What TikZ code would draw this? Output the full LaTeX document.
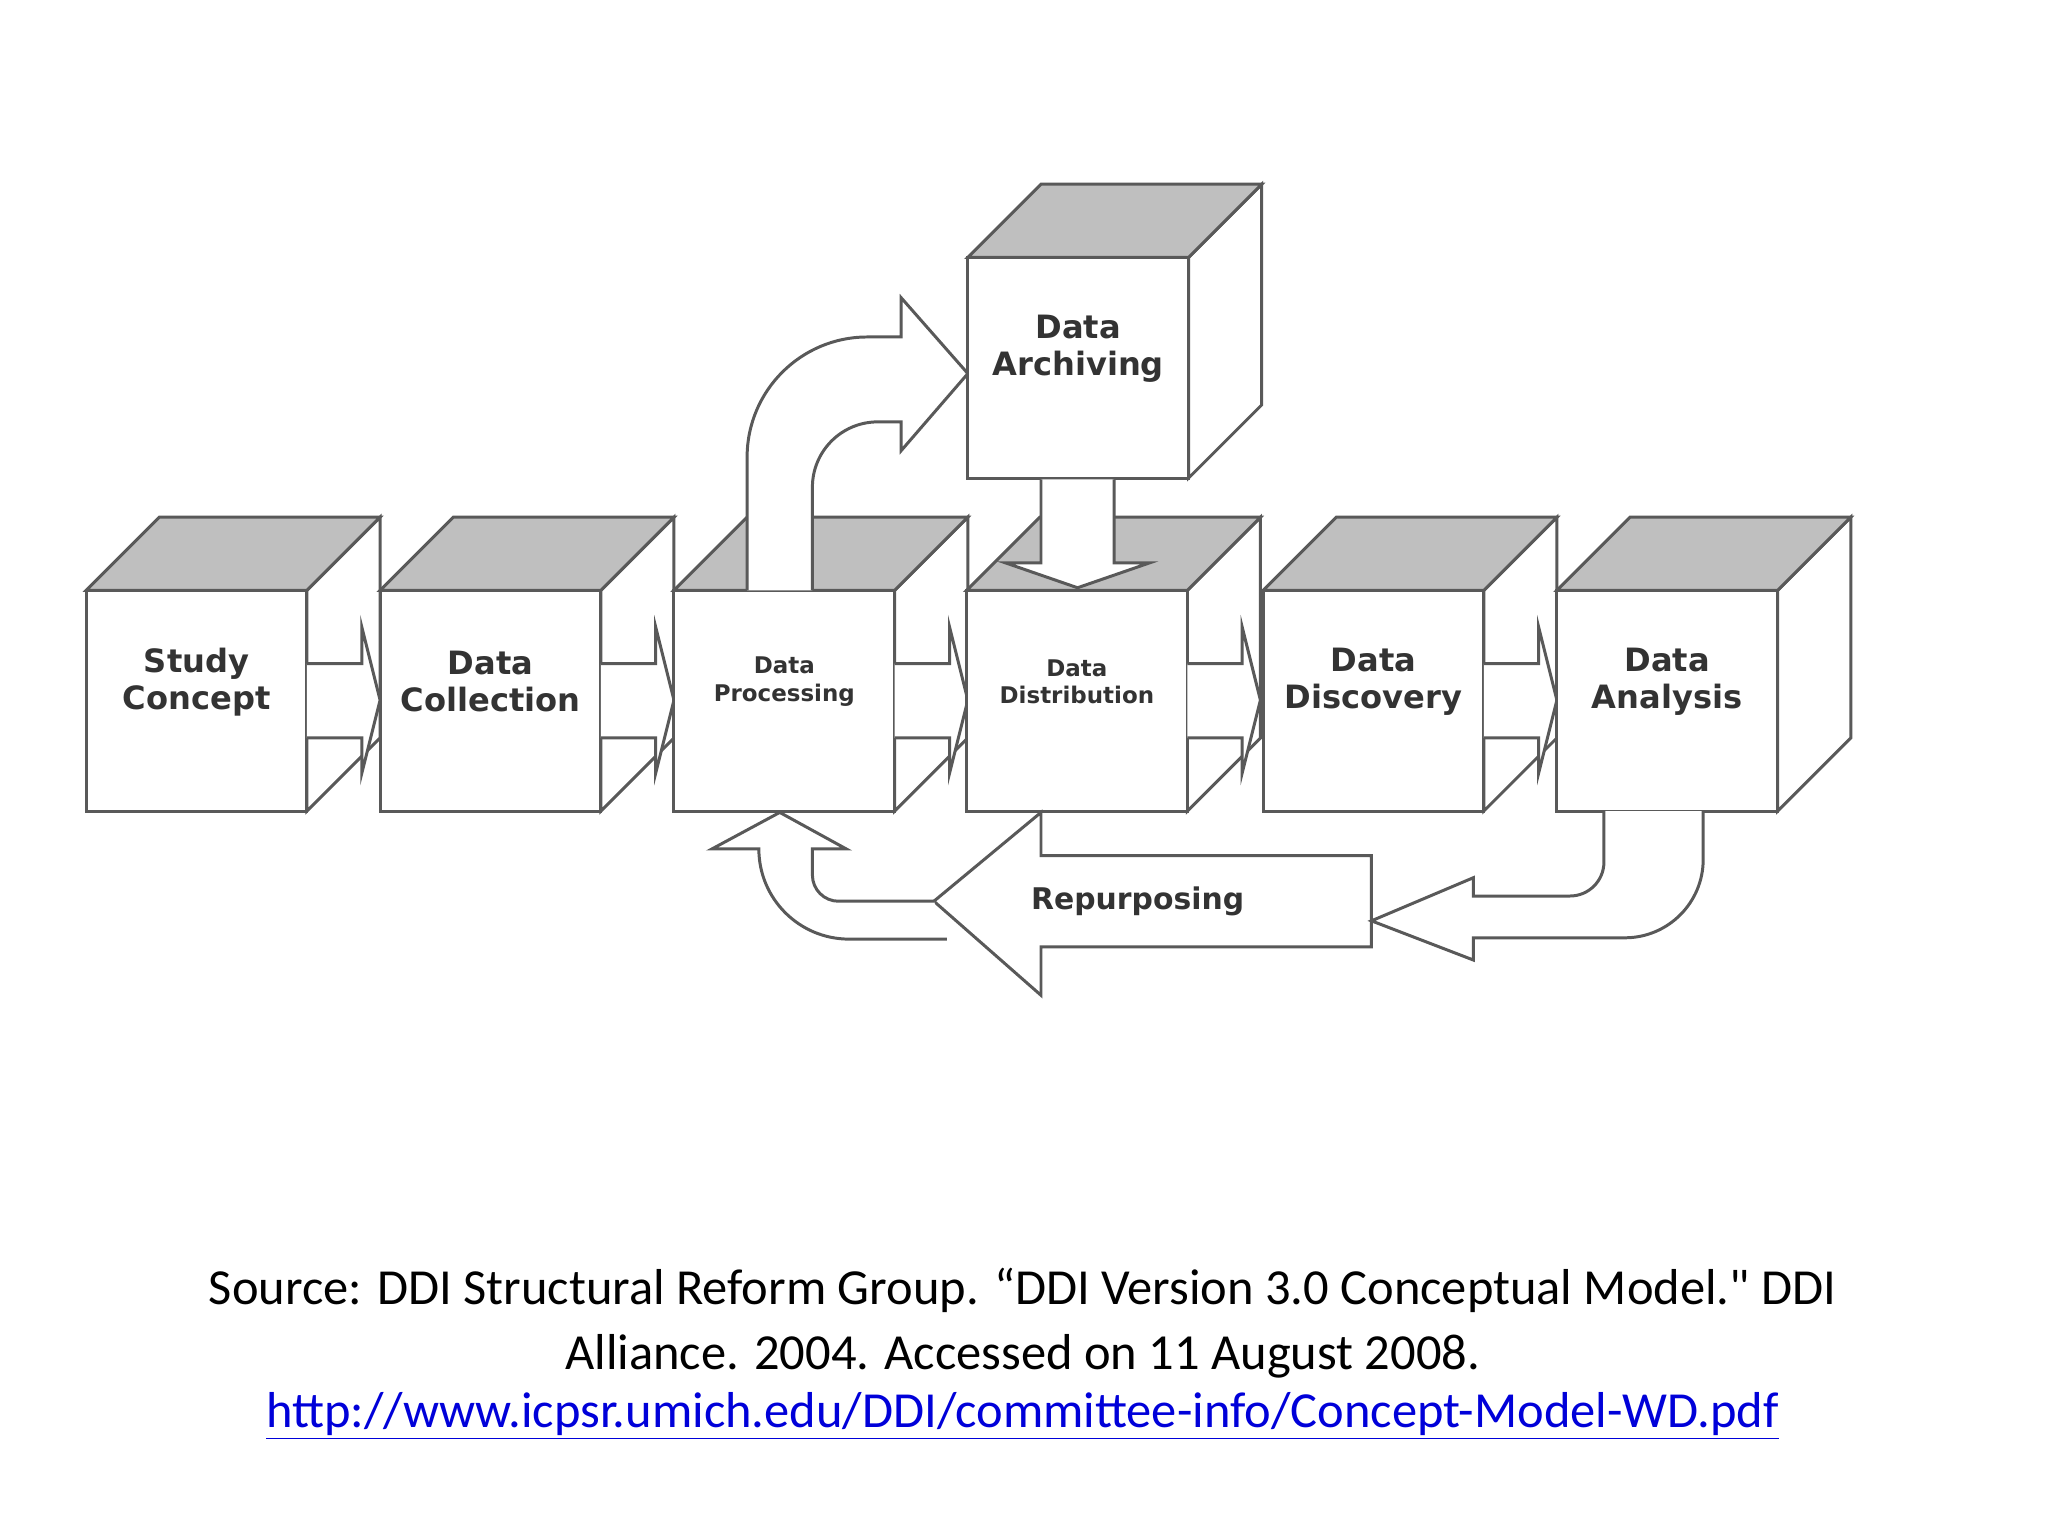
\documentclass[tikz,border=0pt]{standalone}
\usepackage{fontspec}
\setmainfont{Carlito}[Ligatures=TeXOff]
\newfontfamily\boxfont{DejaVu Sans}
\usepackage{xcolor}
\begin{document}
\begin{tikzpicture}[x=0.02cm,y=-0.02cm,
  ln/.style={draw=black!65,line width=1.3pt,line join=miter},
  topf/.style={ln,fill=black!25},
  face/.style={ln,fill=white},
  arr/.style={ln,fill=white},
  lab/.style={font=\boxfont\bfseries\fontsize{14}{16}\selectfont,text=black!80,align=center},
  slab/.style={font=\boxfont\bfseries\fontsize{10}{12}\selectfont,text=black!80,align=center}]
\useasboundingbox (0,0) rectangle (1568,1176);
\newcommand\MyCube[5]{%
  \path[face] (#1+169,#2) -- (#1+225,#2-56) -- (#1+225,#2+113) -- (#1+169,#2+169) -- cycle;
  \path[topf] (#1,#2) -- (#1+56,#2-56) -- (#1+225,#2-56) -- (#1+169,#2) -- cycle;
  \path[face] (#1,#2) rectangle (#1+169,#2+169);
  \node[#4] (#3) at (#1+84.5,#2+70) {#5};}
\newcommand\HArrow[2]{%
  \path[arr] (#1+169,#2+56) -- (#1+211,#2+56) -- (#1+211,#2+28) -- (#1+225,#2+84) -- (#1+211,#2+140) -- (#1+211,#2+113) -- (#1+169,#2+113);}
\MyCube{66}{452}{sc}{lab}{Study\\Concept}
\HArrow{66}{452}
\MyCube{291}{452}{dc}{lab}{Data\\Collection}
\HArrow{291}{452}
\MyCube{516}{452}{dp}{slab}{Data\\Processing}
\HArrow{516}{452}
% curved arrow processing -> archiving
\path[arr] (572,452) -- (572,350) arc[start angle=180,end angle=270,radius=92] -- (690,258) -- (690,228) -- (741,286) -- (690,345) -- (690,323) -- (672,323) arc[start angle=270,end angle=180,radius=50] -- (622,452);
\MyCube{740}{452}{dd}{slab}{Data\\Distribution}
\HArrow{740}{452}
\MyCube{741}{197}{da}{lab}{Data\\Archiving}
\path[arr] (797,367) -- (797,431) -- (770,431) -- (825,450) -- (880,431) -- (853,431) -- (853,367);
\MyCube{967}{452}{dsc}{lab}{Data\\Discovery}
\HArrow{967}{452}
\MyCube{1192}{452}{dan}{lab}{Data\\Analysis}
% repurposing arrow
\path[arr] (797,622) -- (797,655) -- (1050,655) -- (1050,725) -- (797,725) -- (797,762) -- (715,690) -- cycle;
\node[lab,font=\boxfont\bfseries\fontsize{13}{15}\selectfont] (rp) at (871,690) {Repurposing};
% back to processing
\path[arr] (725,719) -- (650,719) arc[start angle=90,end angle=180,radius=69] -- (570,650) -- (545,650) -- (597,622) -- (648,650) -- (622,650) -- (622,670) arc[start angle=180,end angle=90,radius=20] -- (715,690);
% analysis back to repurposing
\path[arr] (1228,621) -- (1228,660) arc[start angle=0,end angle=90,radius=26] -- (1128,686) -- (1128,672) -- (1050,705) -- (1128,735) -- (1128,718) -- (1244,718) arc[start angle=90,end angle=0,radius=60] -- (1304,621);
% caption
\node[font=\fontsize{22}{28}\selectfont,align=center] (cap) at (783,1013) {Source: DDI Structural Reform Group. \char"201C DDI Version 3.0 Conceptual Model." DDI\\Alliance. 2004. Accessed on 11 August 2008.};
\node[font=\fontsize{22}{28}\selectfont,text=blue!85!black] (url) at (783,1084) {\underline{http://www.icpsr.umich.edu/DDI/committee-info/Concept-Model-WD.pdf}};
\end{tikzpicture}
\end{document}
